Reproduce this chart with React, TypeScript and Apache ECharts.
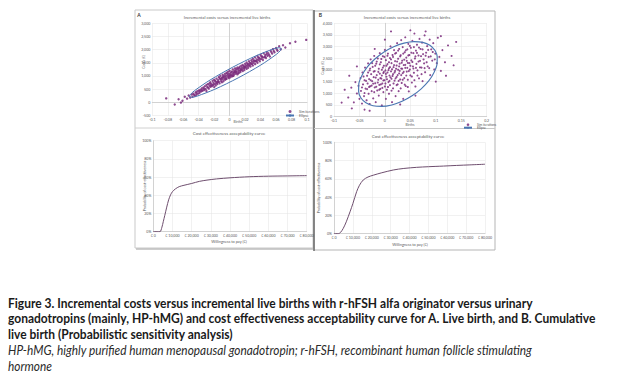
import React, { useEffect, useRef } from "react";
import * as echarts from "echarts";

// ---------- DATA ----------
const scatterA: number[][] = [
  [-0.082,150],[-0.071,-80],[-0.066,120],[-0.061,60],[-0.058,210],[-0.055,140],[-0.053,260],[-0.051,180],[-0.049,300],[-0.048,210],
  [-0.047,330],[-0.045,250],[-0.044,380],[-0.043,290],[-0.042,420],[-0.041,330],[-0.040,450],[-0.039,360],[-0.038,480],[-0.037,410],
  [-0.036,530],[-0.035,440],[-0.034,560],[-0.033,470],[-0.032,610],[-0.031,500],[-0.030,660],[-0.030,430],[-0.029,580],[-0.028,690],
  [-0.027,520],[-0.026,640],[-0.025,760],[-0.025,590],[-0.024,700],[-0.023,610],[-0.022,820],[-0.022,660],[-0.021,740],[-0.020,580],
  [-0.020,860],[-0.019,700],[-0.018,790],[-0.018,640],[-0.017,900],[-0.016,760],[-0.016,690],[-0.015,850],[-0.014,960],[-0.014,780],
  [-0.013,720],[-0.012,880],[-0.012,1010],[-0.011,810],[-0.010,930],[-0.010,760],[-0.009,1050],[-0.009,870],[-0.008,980],[-0.008,800],
  [-0.007,920],[-0.006,1080],[-0.006,860],[-0.005,1000],[-0.005,940],[-0.004,1120],[-0.004,890],[-0.003,1030],[-0.002,960],[-0.002,1160],
  [-0.001,1070],[-0.001,920],[0.000,1010],[0.000,1200],[0.001,1100],[0.001,950],[0.002,1040],[0.003,1170],[0.003,990],[0.004,1250],
  [0.004,1080],[0.005,1130],[0.005,1010],[0.006,1210],[0.006,1060],[0.007,1150],[0.007,1290],[0.008,1090],[0.008,1220],[0.009,1140],
  [0.010,1320],[0.010,1060],[0.011,1190],[0.011,1260],[0.012,1120],[0.013,1350],[0.013,1210],[0.014,1280],[0.014,1150],[0.015,1390],
  [0.015,1240],[0.016,1320],[0.017,1190],[0.017,1420],[0.018,1290],[0.019,1360],[0.019,1230],[0.020,1460],[0.020,1330],[0.021,1400],
  [0.022,1270],[0.022,1510],[0.023,1380],[0.024,1450],[0.024,1310],[0.025,1560],[0.026,1420],[0.026,1500],[0.027,1360],[0.028,1600],
  [0.028,1470],[0.029,1540],[0.030,1400],[0.030,1650],[0.031,1500],[0.032,1590],[0.033,1450],[0.033,1700],[0.034,1560],[0.035,1630],
  [0.036,1500],[0.036,1760],[0.037,1610],[0.038,1690],[0.039,1560],[0.040,1800],[0.041,1650],[0.042,1740],[0.043,1610],[0.044,1860],
  [0.045,1710],[0.046,1800],[0.047,1680],[0.048,1910],[0.049,1770],[0.050,1860],[0.052,1740],[0.053,1960],[0.055,1850],[0.056,2020],
  [0.058,1900],[0.060,2060],[0.062,1960],[0.064,2130],[0.066,2010],[0.069,2170],[0.072,2080],[0.078,2240],[0.099,2370],[-0.063,-10],
  [0.085,2300],
  [-0.028,560],[-0.026,720],[-0.024,640],[-0.021,670],[-0.019,820],[-0.017,740],[-0.015,780],[-0.013,920],[-0.011,890],[-0.009,950],
  [-0.007,1000],[-0.005,880],[-0.003,1090],[-0.001,1000],[0.001,1030],[0.002,1140],[0.004,1000],[0.006,1140],[0.008,1160],[0.009,1270],
  [0.011,1100],[0.012,1300],[0.014,1210],[0.016,1250],[0.018,1370],[0.019,1300],[0.021,1330],[0.023,1450],[0.025,1390],[0.027,1480],
  [0.029,1450],[0.031,1580],[0.033,1560],[0.035,1560],[0.037,1700],[0.039,1640],[0.041,1740],[0.043,1700],[0.046,1730],[0.048,1830],
  [0.051,1800],[0.054,1900],[0.057,1950],[0.061,2000],[-0.033,520],[-0.036,470],[-0.039,420],[-0.043,350],[-0.046,290]
];

const ellipseA: number[][] = [
  [0.0668,2050],[0.0657,1967],[0.0606,1826],[0.0403,1416],[0.0111,930],[-0.0191,497],[-0.0421,235],[-0.0489,190],
  [-0.0519,213],[-0.0507,296],[-0.0457,437],[-0.0253,847],[0.0039,1333],[0.0341,1766],[0.0570,2028],[0.0639,2073],[0.0668,2050]
];

const scatterB: number[][] = [
  [-0.072,820],[-0.066,1240],[-0.061,610],[-0.058,1480],[-0.055,990],[-0.052,1320],[-0.05,760],
  [-0.048,1650],[-0.047,1100],[-0.045,560],[-0.044,1890],[-0.043,1380],[-0.041,880],[-0.040,1560],[-0.039,2100],[-0.038,1200],
  [-0.036,700],[-0.035,1750],[-0.034,1420],[-0.033,2280],[-0.032,980],[-0.031,1610],[-0.030,1980],[-0.030,540],
  [-0.029,1300],[-0.028,2450],[-0.027,1820],[-0.026,1090],[-0.025,1520],[-0.024,2130],[-0.023,780],[-0.022,1690],[-0.021,2600],
  [-0.020,1250],[-0.020,1950],[-0.019,1430],[-0.018,620],[-0.017,2270],[-0.016,1780],[-0.015,1120],[-0.014,2490],[-0.013,1580],
  [-0.012,2050],[-0.012,900],[-0.011,1360],[-0.010,2720],[-0.010,1840],
  [-0.009,1190],[-0.008,2330],[-0.007,1630],[-0.006,480],[-0.006,2010],[-0.005,1420],[-0.004,2590],[-0.003,1050],[-0.003,1870],
  [-0.002,2180],[-0.001,1560],[0.000,2860],[0.000,1290],[0.001,1980],[0.002,760],[0.002,2420],[0.003,1710],[0.004,1150],
  [0.005,2250],[0.005,1890],[0.006,2700],[0.007,1480],[0.008,2070],[0.008,980],[0.009,1760],[0.010,2510],[0.010,1350],
  [0.011,3010],[0.012,1940],[0.013,1620],[0.013,2290],[0.014,620],[0.015,2640],[0.016,1820],[0.016,1210],[0.017,2120],[0.018,2850],
  [0.019,1540],[0.020,2380],[0.020,1960],[0.021,880],[0.022,2730],[0.023,1700],[0.023,2190],[0.024,3150],[0.025,1380],[0.026,2480],
  [0.026,2010],[0.027,1090],[0.028,2900],[0.028,1850],[0.029,2270],[0.030,1590],
  [0.031,2630],[0.032,3280],[0.032,2060],[0.033,1440],[0.034,2400],[0.035,1860],[0.035,2980],[0.036,760],[0.037,2210],[0.038,1650],
  [0.039,2760],[0.040,2090],[0.040,3400],[0.041,1310],[0.042,2530],[0.043,1930],[0.044,2880],[0.045,1580],[0.045,2300],[0.046,3120],
  [0.047,1080],[0.048,2640],[0.049,2020],[0.050,1770],
  [0.051,2950],[0.052,2410],[0.053,1460],[0.054,3250],[0.055,2150],[0.056,2720],[0.057,1880],[0.058,3560],[0.059,2490],[0.060,1290],
  [0.061,2830],[0.062,2260],[0.063,3080],[0.064,1980],[0.066,2620],[0.067,1640],[0.068,3330],[0.069,2390],[0.070,2900],[0.072,2100],
  [0.073,3170],[0.074,1520],[0.075,2680],[0.077,2280],[0.078,3480],[0.079,1900],
  [0.081,2740],[0.083,3020],[0.084,2150],[0.086,2560],[0.088,3300],[0.089,1780],[0.091,2880],[0.093,2400],[0.095,3150],[0.097,2020],
  [0.099,2700],[0.102,2290],[0.104,3380],[0.107,2560],[0.110,1960],[0.113,2850],[0.118,2330],[0.124,3050],[0.131,2600],
  [-0.085,600],[-0.079,1150],[0.14,3200],[0.012,3650],[-0.03,250],[0.05,3700],
  [-0.045,1250],[-0.042,1720],[-0.040,1010],[-0.037,1530],[-0.035,1180],[-0.033,1890],[-0.031,1270],[-0.029,2060],[-0.028,1560],
  [-0.026,1330],[-0.025,2290],[-0.023,1410],[-0.022,1930],[-0.021,1050],[-0.019,2180],[-0.018,1670],[-0.017,1280],[-0.016,2360],
  [-0.014,1460],[-0.013,1920],[-0.011,1150],[-0.010,2240],[-0.009,1650],[-0.008,1380],[-0.007,2470],[-0.006,1760],[-0.005,1230],
  [-0.004,2100],[-0.003,1550],[-0.002,1920],[-0.001,2560],[0.001,1420],[0.002,1830],[0.003,2180],[0.004,1600],[0.005,2610],
  [0.006,1270],[0.007,1990],[0.008,2330],[0.009,1530],[0.010,2120],[0.011,1680],[0.012,2450],[0.013,1110],[0.014,2030],[0.015,1740],
  [0.016,2560],[0.017,1420],[0.018,2210],[0.019,1890],[0.020,2700],[0.021,1640],[0.022,2050],[0.023,1350],[0.024,2360],[0.025,1780],
  [0.026,2830],[0.027,1530],[0.028,2150],[0.029,1960],[0.030,2580],[0.031,1210],[0.032,1780],[0.033,2310],[0.034,2050],[0.035,1580],
  [0.036,2700],[0.037,1920],[0.038,2440],[0.039,1370],[0.040,2220],[0.041,2840],[0.042,1760],[0.043,2390],[0.044,2090],[0.045,1270],
  [0.046,2620],[0.047,1950],[0.048,2290],[0.049,3030],[0.050,2180],[0.052,2740],[0.053,1720],[0.054,2340],[0.056,2060],[0.057,2980],
  [0.058,1560],[0.060,2580],[0.061,2090],[0.063,2730],[0.064,1760],[0.066,2360],[0.067,2960],[0.069,2110],[0.071,2590],[0.072,1820],
  [0.074,2880],[0.076,2450],[0.078,2080],[0.080,2610],[0.082,2330],[0.085,2860],[0.087,2080],[0.090,2580],[0.094,2770],[0.098,2450],
  [-0.065,350],[-0.055,2150],[-0.07,1750],[0.11,3450],[0.12,1750],[0.08,3650],[0.0,3300],[-0.02,2900],[0.03,520],[0.06,900],
  [0.1,1500],[0.135,2200],[-0.04,300]
];

const ellipseB: number[][] = [
  [0.098,2853],[0.1028,2575],[0.1024,2249],[0.0965,1894],[0.0861,1529],[0.0713,1191],[0.0534,891],[0.0338,655],
  [0.0136,501],[-0.0059,437],[-0.0234,467],[-0.0373,591],[-0.047,797],[-0.0517,1075],[-0.0513,1401],[-0.0454,1756],
  [-0.0348,2121],[-0.0202,2459],[-0.0024,2759],[0.0173,2995],[0.0377,3149],[0.0571,3213],[0.0745,3183],[0.0884,3059],[0.098,2853]
];

const ceacA: number[][] = [
  [0,0],[2000,0],[3500,0],[4500,5],[5200,11],[6000,18],[7000,27],[8000,35],[9000,40.5],[10000,44],[11500,47],[13500,49.5],
  [16000,51],[20000,53],[24000,55.3],[28000,56.7],[33000,58],[40000,59.2],[50000,60.4],[60000,61],[70000,61.3],[80000,61.6]
];

const ceacB: number[][] = [
  [0,0],[2300,0],[3500,1.5],[4900,5.8],[6500,13],[8500,24],[10000,33],[12000,46],[13500,53],[15500,58.8],[18000,62],
  [20800,64],[25000,66.5],[31400,69.7],[37000,71.4],[43800,72.6],[50000,73.3],[58000,74],[65000,74.7],[72000,75.3],[80000,76]
];

const scatterTitle = "Incremental costs versus incremental live births";
const ceacTitle = "Cost effectiveness acceptability curve";
const costsLabel = "Costs (€)";
const birthsLabel = "Births";
const wtpLabel = "Willingness to pay (€)";
const probLabel = "Probability of cost-effectiveness";
const legendNames = ["Sim iterations", "Ellipse"];

const captionBold = [
  "Figure 3. Incremental costs versus incremental live births with r-hFSH alfa originator versus urinary",
  "gonadotropins (mainly, HP-hMG) and cost effectiveness acceptability curve for A. Live birth, and B. Cumulative",
  "live birth (Probabilistic sensitivity analysis)",
];
const captionItalic = [
  "HP-hMG, highly purified human menopausal gonadotropin; r-hFSH, recombinant human follicle stimulating",
  "hormone",
];

// ---------- STYLE ----------
const FONT = "Lato, 'Liberation Sans', sans-serif";
const CAP_FONT = "Lato, 'Liberation Sans', sans-serif";
const PURPLE = "#7a2c7c";
const BLUE = "#4a76b2";
const CURVE = "#6e4e6e";
const GRIDC = "#e2e2e2";
const AXISC = "#bdbdbd";
const LBL = "#595959";

const numFmt = (v: number) => Number(v.toFixed(2)).toString();
const thouFmt = (v: number) => v.toLocaleString("en-US");
const euroFmt = (v: number) => "€ " + v.toLocaleString("en-US");
const pctFmt = (v: number) => v + "%";

function measure(font: string, text: string): number {
  const c = document.createElement("canvas").getContext("2d");
  if (!c) return text.length * 6;
  c.font = font;
  return c.measureText(text).width;
}

function axisCommon(fs = 3.6) {
  return {
    axisLine: { lineStyle: { color: AXISC, width: 0.6 } },
    axisTick: { show: false },
    splitLine: { show: true, lineStyle: { color: GRIDC, width: 0.5 } },
    axisLabel: { fontSize: fs, color: LBL, fontFamily: FONT, margin: 2 },
  };
}

export default function App() {
  const ref = useRef<HTMLDivElement>(null);
  useEffect(() => {
    document.body.style.margin = "0";
    if (!ref.current) return;
    const chart = echarts.init(ref.current, undefined, { renderer: "svg" });

    const txt = (x: number, y: number, text: string, o: any = {}) => ({
      type: "text",
      x,
      y,
      rotation: o.rotation || 0,
      silent: true,
      z: 50,
      style: {
        text,
        fill: o.fill || LBL,
        font: o.font || `${o.size || 4}px ${FONT}`,
        textAlign: o.align || "center",
        textVerticalAlign: "middle",
      },
    });

    const boldFont = `bold 12.5px ${CAP_FONT}`;
    const italFont = `italic 12.5px ${CAP_FONT}`;
    const scaleBold = 589 / measure(boldFont, captionBold[1]);
    const scaleItal = 524 / measure(italFont, captionItalic[0]);

    const ax = (extra: any, fmt: (v: number) => string) => {
      const c = axisCommon();
      return { type: "value", ...c, ...extra, axisLabel: { ...c.axisLabel, formatter: fmt } };
    };

    const option: any = {
      animation: false,
      backgroundColor: "#ffffff",
      grid: [
        { left: 152.3, top: 23.3, width: 154.7, height: 92.2 },
        { left: 334, top: 23.3, width: 152.7, height: 93.3 },
        { left: 153.3, top: 140.7, width: 153.4, height: 91 },
        { left: 334, top: 142.3, width: 151, height: 91.4 },
      ],
      xAxis: [
        ax({ gridIndex: 0, min: -0.1, max: 0.1, interval: 0.02 }, numFmt),
        ax({ gridIndex: 1, min: -0.1, max: 0.2, interval: 0.05 }, numFmt),
        ax({ gridIndex: 2, min: 0, max: 80000, interval: 10000 }, euroFmt),
        ax({ gridIndex: 3, min: 0, max: 80000, interval: 10000 }, euroFmt),
      ],
      yAxis: [
        ax({ gridIndex: 0, min: -500, max: 3000, interval: 500 }, thouFmt),
        ax({ gridIndex: 1, min: 0, max: 4000, interval: 500 }, thouFmt),
        ax({ gridIndex: 2, min: 0, max: 100, interval: 20 }, pctFmt),
        ax({ gridIndex: 3, min: 0, max: 100, interval: 20 }, pctFmt),
      ],
      legend: [
        {
          left: 285, top: 110, orient: "vertical", itemWidth: 8, itemHeight: 3, itemGap: 1, padding: 0,
          selectedMode: false,
          textStyle: { fontSize: 3.4, color: LBL, fontFamily: FONT },
          data: [{ name: legendNames[0], icon: "circle" }, { name: legendNames[1] }],
        },
        {
          left: 463, top: 123.2, orient: "vertical", itemWidth: 8, itemHeight: 2.6, itemGap: 0, padding: 0,
          selectedMode: false,
          textStyle: { fontSize: 3.2, color: LBL, fontFamily: FONT },
          data: [{ name: legendNames[0], icon: "circle" }, { name: legendNames[1] }],
        },
      ],
      series: [
        { name: legendNames[0], type: "scatter", xAxisIndex: 0, yAxisIndex: 0, data: scatterA, symbolSize: 2.4, itemStyle: { color: PURPLE, opacity: 0.85 } },
        { name: legendNames[1], type: "line", xAxisIndex: 0, yAxisIndex: 0, data: ellipseA, smooth: 0.3, symbol: "none", lineStyle: { color: BLUE, width: 1 }, itemStyle: { color: BLUE }, z: 5 },
        { name: legendNames[0], type: "scatter", xAxisIndex: 1, yAxisIndex: 1, data: scatterB, symbolSize: 2.1, itemStyle: { color: PURPLE, opacity: 0.85 } },
        { name: legendNames[1], type: "line", xAxisIndex: 1, yAxisIndex: 1, data: ellipseB, smooth: 0.3, symbol: "none", lineStyle: { color: BLUE, width: 1.1 }, itemStyle: { color: BLUE }, z: 5 },
        { name: "CEAC A", type: "line", xAxisIndex: 2, yAxisIndex: 2, data: ceacA, smooth: 0.3, symbol: "none", lineStyle: { color: CURVE, width: 1 } },
        { name: "CEAC B", type: "line", xAxisIndex: 3, yAxisIndex: 3, data: ceacB, smooth: 0.3, symbol: "none", lineStyle: { color: CURVE, width: 1 } },
      ],
      graphic: [
        // frames
        { type: "rect", shape: { x: 135, y: 10, width: 178, height: 238 }, style: { fill: "none", stroke: "#c9c9c9", lineWidth: 1 }, silent: true },
        { type: "line", shape: { x1: 135, y1: 128, x2: 313, y2: 128 }, style: { stroke: "#d0d0d0", lineWidth: 1 }, silent: true },
        { type: "line", shape: { x1: 136, y1: 249, x2: 313, y2: 249 }, style: { stroke: "#bdbdbd", lineWidth: 1.5 }, silent: true },
        { type: "rect", shape: { x: 314, y: 11, width: 181, height: 239 }, style: { fill: "none", stroke: "#b5b5b5", lineWidth: 1 }, silent: true },
        { type: "line", shape: { x1: 314, y1: 10, x2: 314, y2: 251 }, style: { stroke: "#6a6a6a", lineWidth: 1.5 }, silent: true },
        { type: "line", shape: { x1: 314, y1: 128.5, x2: 495, y2: 128.5 }, style: { stroke: "#c8c8c8", lineWidth: 1 }, silent: true },
        // panel letters
        txt(139, 15, "A", { font: `bold 5px ${FONT}`, fill: "#333" }),
        txt(320.5, 15, "B", { font: `bold 5px ${FONT}`, fill: "#333" }),
        // titles
        txt(227, 17.5, scatterTitle, { size: 4.2 }),
        txt(407, 17.5, scatterTitle, { size: 4.2 }),
        txt(229, 133.5, ceacTitle, { size: 4.4 }),
        txt(408, 136, ceacTitle, { size: 4.4 }),
        // axis titles
        txt(143, 62, costsLabel, { size: 3.6, rotation: Math.PI / 2 }),
        txt(322.5, 68, costsLabel, { size: 3.6, rotation: Math.PI / 2 }),
        txt(238, 121.5, birthsLabel, { size: 3.4 }),
        txt(410, 124.5, birthsLabel, { size: 3.4 }),
        txt(229, 241.5, wtpLabel, { size: 3.8 }),
        txt(410, 244.5, wtpLabel, { size: 3.8 }),
        txt(144, 186, probLabel, { size: 3.6, rotation: Math.PI / 2 }),
        txt(318.5, 188, probLabel, { size: 3.6, rotation: Math.PI / 2 }),
        // caption
        ...captionBold.map((t, i) => ({
          type: "text", x: 8, y: 303 + i * 15.7, scaleX: scaleBold, silent: true,
          style: { text: t, fill: "#1a1a1a", font: boldFont, textAlign: "left", textVerticalAlign: "middle" },
        })),
        ...captionItalic.map((t, i) => ({
          type: "text", x: 8, y: 350 + i * 16, scaleX: scaleItal, silent: true,
          style: { text: t, fill: "#2a2a2a", font: italFont, textAlign: "left", textVerticalAlign: "middle" },
        })),
      ],
    };
    chart.setOption(option);
    return () => chart.dispose();
  }, []);
  return <div ref={ref} style={{ width: 638, height: 390 }} />;
}
